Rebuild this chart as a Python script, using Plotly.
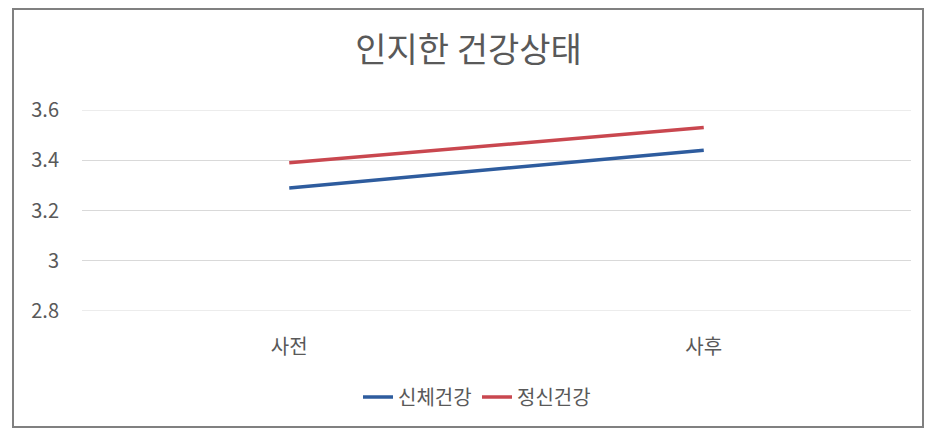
import plotly.graph_objects as go

categories = ["사전", "사후"]
physical = [3.29, 3.44]
mental = [3.39, 3.53]
series_names = ["신체건강", "정신건강"]
y_ticks = [2.8, 3.0, 3.2, 3.4, 3.6]
y_tick_labels = ["2.8", "3", "3.2", "3.4", "3.6"]

W, H = 937, 435
L, R, T, B = 82, 26, 110, 124
pw, ph = W - L - R, H - T - B

def px(x):
    return (x - L) / pw

def py(y):
    return (H - B - y) / ph

font = "Noto Sans CJK KR, Noto Sans, sans-serif"
grey = "#595959"

fig = go.Figure()
fig.add_trace(go.Scatter(x=categories, y=physical, name=series_names[0], mode="lines",
                         line=dict(color="#2E5C9E", width=3.5)))
fig.add_trace(go.Scatter(x=categories, y=mental, name=series_names[1], mode="lines",
                         line=dict(color="#C9474F", width=3.5)))

fig.update_layout(
    width=W, height=H,
    margin=dict(l=L, r=R, t=T, b=B, autoexpand=False),
    paper_bgcolor="white", plot_bgcolor="white",
    font=dict(family=font, color=grey, size=20),
    title=dict(text="인지한 건강상태", x=0.5, xanchor="center", y=1 - 50 / H, yanchor="middle",
               font=dict(size=34, color=grey, family=font)),
    showlegend=True,
    legend=dict(orientation="h", x=px(358), xanchor="left", y=py(397), yanchor="middle",
                font=dict(size=20, color=grey), itemwidth=30, tracegroupgap=0,
                entrywidth=74, bgcolor="rgba(0,0,0,0)"),
    xaxis=dict(type="category", range=[-0.5, 1.5], showgrid=False, zeroline=False,
               showline=False, ticks="", tickfont=dict(size=20, color=grey), ticklabelstandoff=22),
    yaxis=dict(range=[2.8, 3.6], tickvals=y_ticks, ticktext=y_tick_labels,
               showgrid=True, gridcolor="#D9D9D9", gridwidth=1, zeroline=False,
               showline=False, ticks="", tickfont=dict(size=20, color=grey), ticklabelstandoff=22),
    shapes=[dict(type="rect", xref="paper", yref="paper",
                 x0=px(13), x1=px(923), y0=py(427), y1=py(9),
                 line=dict(color="#808080", width=2), fillcolor="rgba(0,0,0,0)", layer="below")],
)
# edge gridlines at 2.8 and 3.6
for v in (y_ticks[0], y_ticks[-1]):
    fig.add_shape(type="line", xref="paper", yref="y", x0=0, x1=1, y0=v, y1=v,
                  line=dict(color="#D9D9D9", width=1), layer="below")

fig.write_html("out.html", config={"displayModeBar": False},
               post_script="document.body.style.margin='0';document.body.style.overflow='hidden';")
